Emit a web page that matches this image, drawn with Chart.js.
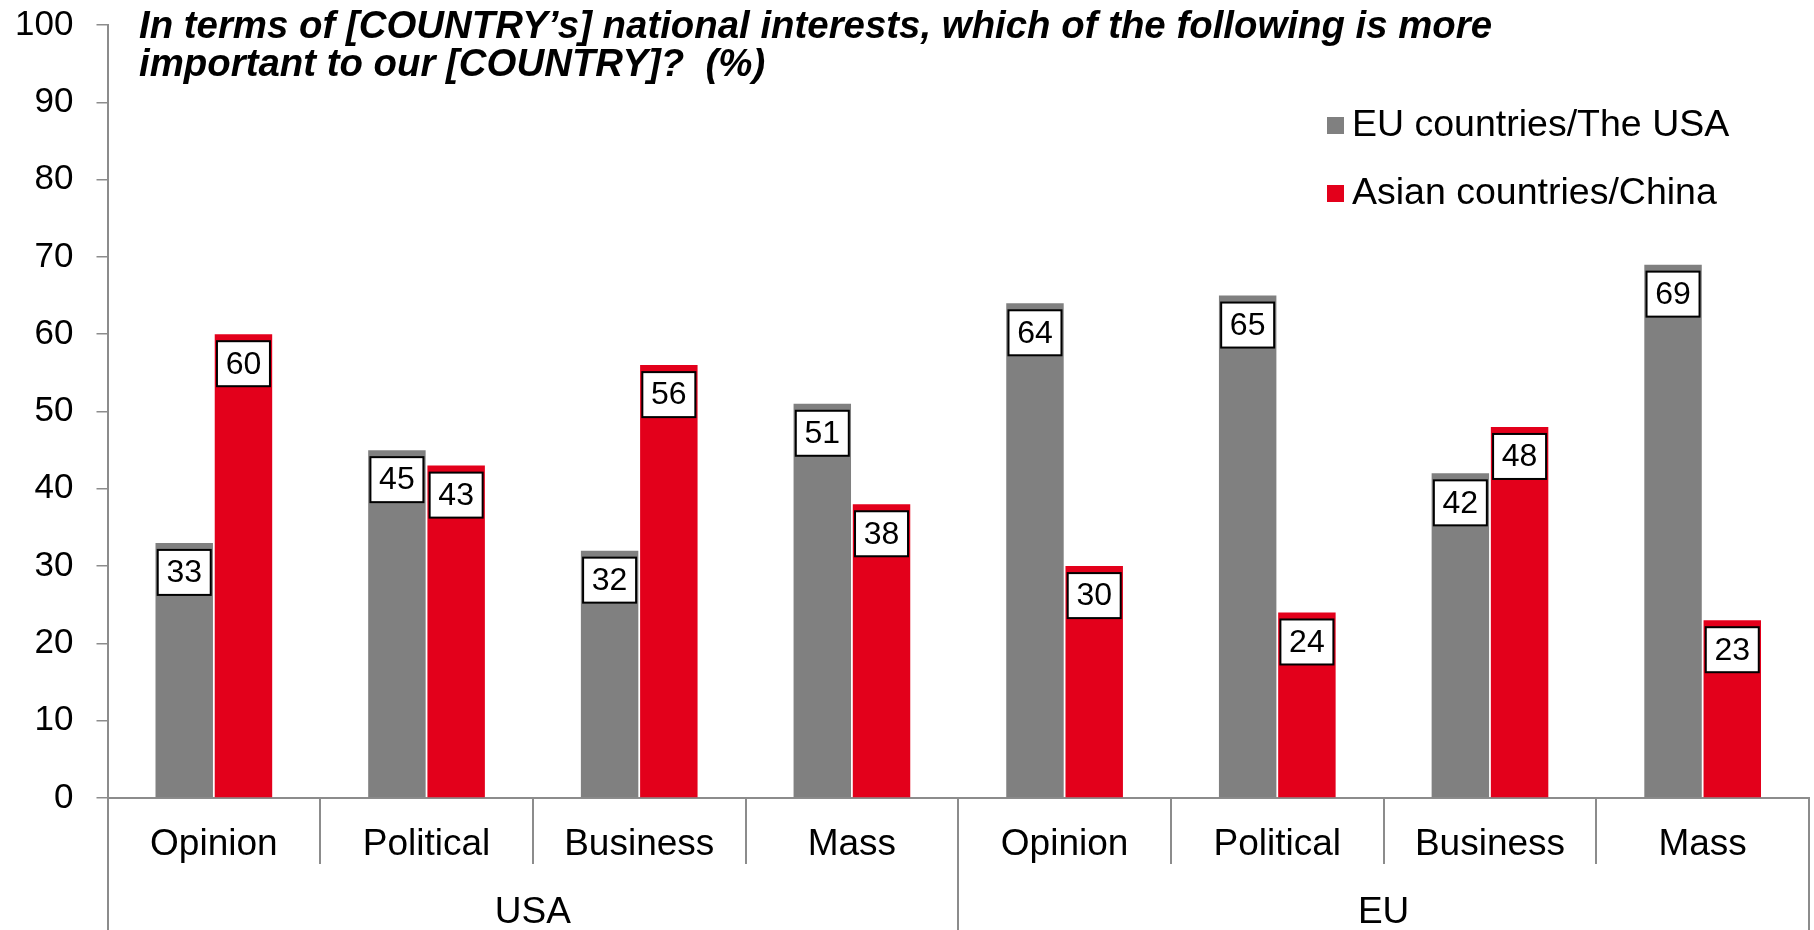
<!DOCTYPE html>
<html>
<head>
<meta charset="utf-8">
<title>National interests</title>
<script src="https://cdn.jsdelivr.net/npm/chart.js@4.4.1/dist/chart.umd.min.js"></script>
<style>
  html, body { margin: 0; padding: 0; background: #fff; }
  canvas { display: block; }
</style>
</head>
<body>
<canvas id="myChart" width="1814" height="930"></canvas>
<script>
// groups on the lower axis row, categories on the upper one
var groups = ["USA", "EU"];
var categories = ["Opinion", "Political", "Business", "Mass", "Opinion", "Political", "Business", "Mass"];

// answers in percent
var euUsaValues = [33, 45, 32, 51, 64, 65, 42, 69];
var asiaChinaValues = [60, 43, 56, 38, 30, 24, 48, 23];

var seriesLabels = ["EU countries/The USA", "Asian countries/China"];
var titleLines = [
  "In terms of [COUNTRY\u2019s] national interests, which of the following is more",
  "important to our [COUNTRY]?  (%)"
];

var FONT = '"Liberation Sans", Arial, sans-serif';
var GREY = "rgb(128, 128, 128)";
var RED = "rgb(227, 0, 27)";
var AXIS = "#8c8c8c";

// white boxes with the value near the top of each bar
var valueBoxes = {
  id: "valueBoxes",
  afterDatasetsDraw: function (chart) {
    var ctx = chart.ctx;
    ctx.save();
    ctx.font = "32px " + FONT;
    ctx.textAlign = "center";
    ctx.textBaseline = "middle";
    chart.data.datasets.forEach(function (ds, i) {
      chart.getDatasetMeta(i).data.forEach(function (bar, j) {
        var w = 53, h = 45;
        var x = bar.x - w / 2;
        var y = bar.y + 7;
        ctx.fillStyle = "#fff";
        ctx.fillRect(x, y, w, h);
        ctx.lineWidth = 2;
        ctx.strokeStyle = "#000";
        ctx.strokeRect(x, y, w, h);
        ctx.fillStyle = "#000";
        ctx.fillText(ds.data[j], bar.x, y + h / 2 + 1);
      });
    });
    ctx.restore();
  }
};

// title and legend sit inside the plot area
var titleAndLegend = {
  id: "titleAndLegend",
  afterDraw: function (chart) {
    var ctx = chart.ctx;
    ctx.save();
    ctx.fillStyle = "#000";
    ctx.textAlign = "left";
    ctx.textBaseline = "alphabetic";
    ctx.font = "italic bold 38.4px " + FONT;
    ctx.fillText(titleLines[0], 139, 38);
    ctx.fillText(titleLines[1], 139, 76);

    ctx.font = "37.5px " + FONT;
    ctx.textBaseline = "middle";
    chart.data.datasets.forEach(function (ds, i) {
      var cy = 125 + i * 68;
      ctx.fillStyle = ds.backgroundColor;
      ctx.fillRect(1327, cy - 8, 17, 17);
      ctx.fillStyle = "#000";
      ctx.fillText(ds.label, 1352, cy + 1);
    });
    ctx.restore();
  }
};

window.onload = function () {
  var ctx = document.getElementById("myChart").getContext("2d");
  var myChart = new Chart(ctx, {
    type: "bar",
    data: {
      labels: categories,
      datasets: [
        {
          label: seriesLabels[0],
          data: euUsaValues,
          backgroundColor: GREY,
          borderWidth: 0,
        },
        {
          label: seriesLabels[1],
          data: asiaChinaValues,
          backgroundColor: RED,
          borderWidth: 0,
        },
      ],
    },
    options: {
      responsive: false,
      animation: false,
      devicePixelRatio: 1,
      categoryPercentage: 0.557,
      barPercentage: 0.97,
      layout: { padding: { top: 25, right: 5, left: 0, bottom: 0 } },
      plugins: {
        legend: { display: false },
        tooltip: { enabled: false },
        title: { display: false },
      },
      scales: {
        y: {
          min: 0,
          max: 100,
          ticks: {
            stepSize: 10,
            padding: 23,
            color: "#000",
            font: { family: FONT, size: 35 },
          },
          grid: {
            drawOnChartArea: false,
            tickLength: 11,
            color: AXIS,
            lineWidth: 1.5,
          },
          border: { color: AXIS, width: 2 },
          afterFit: function (scale) {
            scale.width = 107.5;
            // let the top label run into the margin instead of pushing the axis down
            scale.paddingTop = 0;
          },
        },
        x: {
          type: "category",
          offset: true,
          ticks: {
            autoSkip: false,
            maxRotation: 0,
            padding: -41.5,
            color: "#000",
            font: { family: FONT, size: 37 },
          },
          grid: {
            offset: true,
            drawOnChartArea: false,
            tickLength: 66,
            color: AXIS,
            lineWidth: 2,
          },
          border: { color: AXIS, width: 2 },
          afterFit: function (scale) { scale.height = 66; },
        },
        x2: {
          axis: "x",
          type: "category",
          position: "bottom",
          labels: groups,
          offset: true,
          ticks: {
            autoSkip: false,
            maxRotation: 0,
            padding: -39,
            color: "#000",
            font: { family: FONT, size: 37 },
          },
          grid: {
            offset: true,
            drawOnChartArea: false,
            tickLength: 66,
            color: AXIS,
            lineWidth: 2,
          },
          border: { display: false },
          afterFit: function (scale) { scale.height = 66; },
        },
      },
    },
    plugins: [valueBoxes, titleAndLegend],
  });
};
</script>
</body>
</html>
